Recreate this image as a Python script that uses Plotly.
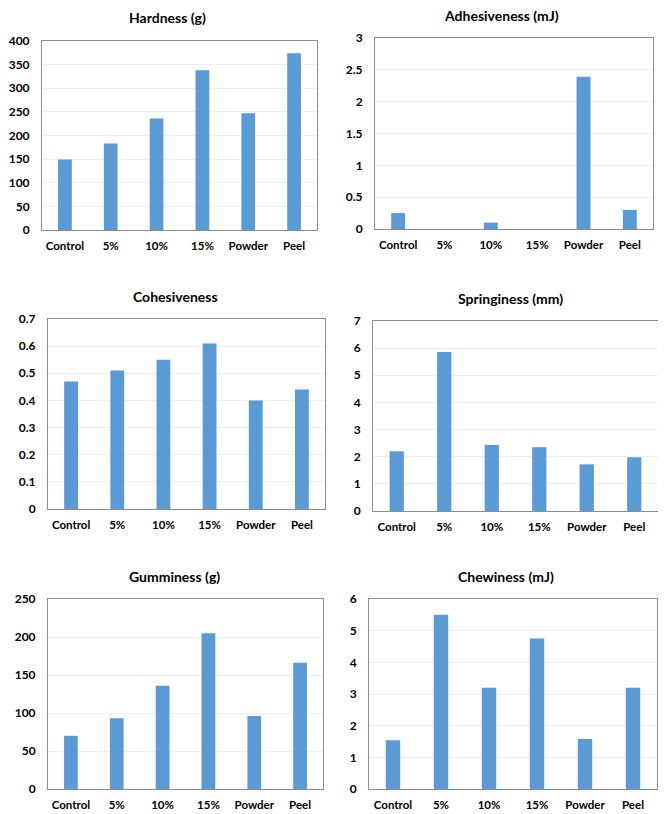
import plotly.graph_objects as go

categories = ["Control", "5%", "10%", "15%", "Powder", "Peel"]

hardness = [149, 183, 236, 338, 247, 374]
adhesiveness = [0.25, 0, 0.1, 0, 2.39, 0.3]
cohesiveness = [0.47, 0.51, 0.55, 0.61, 0.40, 0.44]
springiness = [2.2, 5.86, 2.43, 2.35, 1.72, 1.98]
gumminess = [70, 93, 136, 205, 96, 166]
chewiness = [1.54, 5.5, 3.2, 4.75, 1.58, 3.2]

titles = ["Hardness (g)", "Adhesiveness (mJ)", "Cohesiveness",
          "Springiness (mm)", "Gumminess (g)", "Chewiness (mJ)"]
series = [hardness, adhesiveness, cohesiveness, springiness, gumminess, chewiness]
y_max = [400, 3, 0.7, 7, 250, 6]
y_dtick = [50, 0.5, 0.1, 1, 50, 1]

W, H = 666, 814
OFF = 8  # page body margin in the browser
# plot area pixel boxes (window coords): left, right, top, bottom
boxes = [
    (42, 317, 41, 230),
    (375, 653, 38, 229),
    (48, 325, 319, 509),
    (373, 658, 321, 511),
    (48, 323, 599, 789),
    (369, 657, 599, 789),
]
title_pos = [(167, 17), (501, 15), (175, 296), (510, 298), (174, 576), (506, 576)]

BAR = "#5B9BD5"
FONT = "Lato"

fig = go.Figure()
for i, (vals, box) in enumerate(zip(series, boxes)):
    n = "" if i == 0 else str(i + 1)
    fig.add_trace(go.Bar(x=categories, y=vals, marker_color=BAR,
                         marker_line_width=0, xaxis="x" + n, yaxis="y" + n,
                         showlegend=False))
    l, r, t, b = [v - OFF for v in box]
    fig.layout["xaxis" + n] = dict(
        domain=[l / W, r / W], anchor="y" + n, automargin=False,
        showline=True, linecolor="#8C8C8C", linewidth=1, mirror=True,
        showgrid=False, ticks="", zeroline=False, ticklabelstandoff=5,
        tickfont=dict(family=FONT, size=11.5, color="#000000"),
    )
    fig.layout["yaxis" + n] = dict(
        domain=[1 - b / H, 1 - t / H], anchor="x" + n, automargin=False,
        range=[0, y_max[i]], dtick=y_dtick[i], tick0=0,
        showline=True, linecolor="#8C8C8C", linewidth=1, mirror=True,
        showgrid=True, gridcolor="#EEEEEE", gridwidth=1, zeroline=False,
        ticks="", ticklabelstandoff=9,
        tickfont=dict(family=FONT, size=12, color="#000000"),
    )
    tx, ty = [v - OFF for v in title_pos[i]]
    fig.add_annotation(text="<b>" + titles[i] + "</b>", x=tx / W, y=1 - ty / H,
                       xref="paper", yref="paper", showarrow=False,
                       xanchor="center", yanchor="middle",
                       font=dict(family=FONT, size=14, color="#000000"))

fig.update_layout(
    width=W, height=H, margin=dict(l=0, r=0, t=0, b=0, autoexpand=False),
    paper_bgcolor="white", plot_bgcolor="white",
    bargap=0.7,
    font=dict(family=FONT, size=12, color="#000000", weight="bold"),
)
fig.write_html("out.html")
